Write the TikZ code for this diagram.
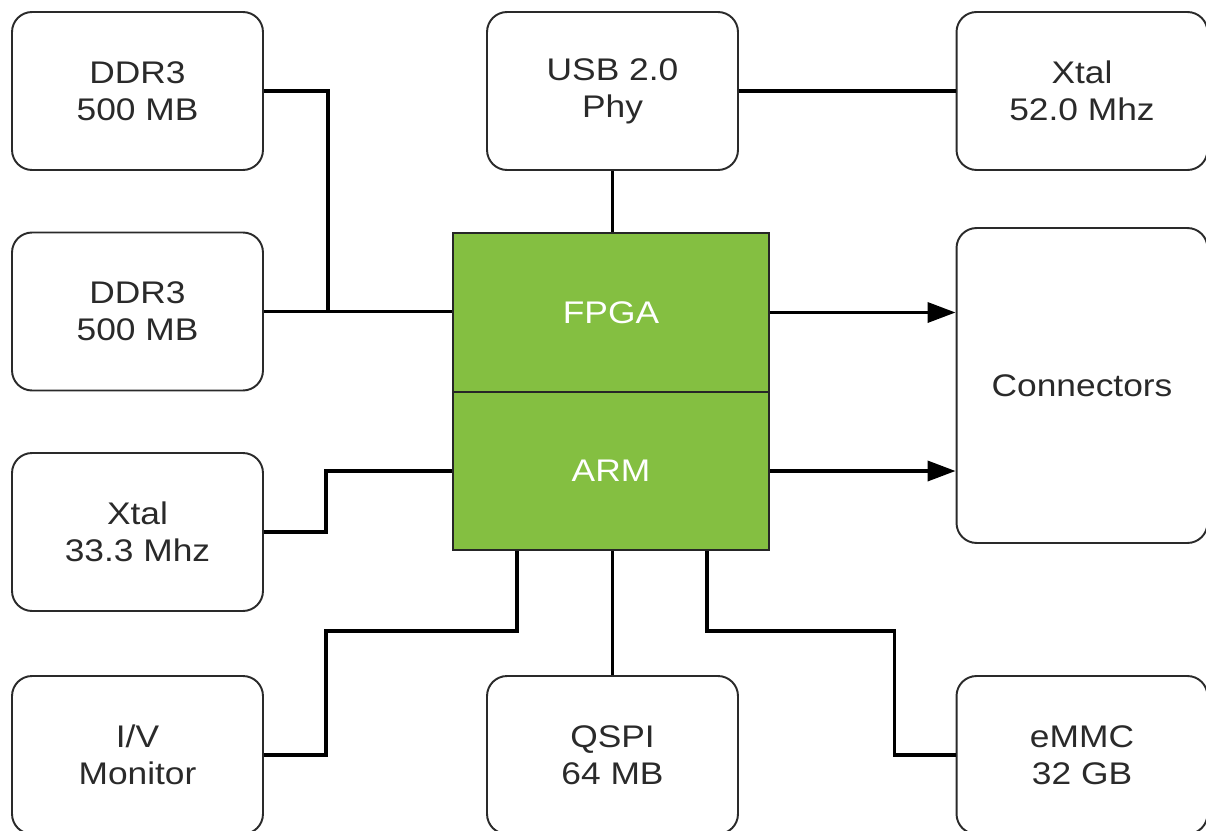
\documentclass[tikz,border=0pt]{standalone}
\usepackage{fontspec}
\setmainfont{Liberation Sans}[FakeStretch=1.13]
\usetikzlibrary{arrows.meta,calc}
\definecolor{chipgreen}{HTML}{84BF41}
\definecolor{boxgray}{HTML}{2A2A2A}

\begin{document}
\begin{tikzpicture}[x=0.02cm,y=-0.02cm,
    part/.style={draw=boxgray, line width=1.1pt, rounded corners=0.4cm, align=center,
        minimum width=5.02cm, minimum height=3.16cm, text=boxgray,
        font=\fontsize{17.8}{21}\selectfont},
    chip/.style={draw=black!85, line width=1.1pt, fill=chipgreen, text=white,
        minimum width=6.32cm, minimum height=3.17cm,
        font=\fontsize{17.8}{21}\selectfont},
    wire/.style={line width=2pt, black},
    bus/.style={wire, -{Triangle[length=0.56cm,width=0.4cm]}}]

        \useasboundingbox (0,0) rectangle (1206,831);

        % Left column: memories, clock, monitor
        \node[part] (ddrA) at (137.5,91) {DDR3\\500 MB};
        \node[part] (ddrB) at (137.5,311.5) {DDR3\\500 MB};
        \node[part] (xtalA) at (137.5,532) {Xtal\\33.3 Mhz};
        \node[part] (ivmon) at (137.5,755) {I/V\\Monitor};

        % Middle column: USB phy, SoC, flash
        \node[part] (usb) at (612.5,91) {USB 2.0\\Phy};
        \node[chip] (fpga) at (611,312.5) {FPGA};
        \node[chip] (arm) at (611,471) {ARM};
        \node[part] (qspi) at (612.5,755) {QSPI\\64 MB};

        % Right column: clock, connectors, eMMC
        \node[part] (xtalB) at (1082,91) {Xtal\\52.0 Mhz};
        \node[part, minimum height=6.3cm] (conn) at (1082,385.5) {Connectors};
        \node[part] (emmc) at (1082,755) {eMMC\\32 GB};

        % Wires to the FPGA
        \coordinate (ddrjoin) at ($(ddrB.east)!0.34!(ddrB.east -| fpga.west)$);
        \draw[wire] (ddrA.east) -| (ddrjoin);
        \draw[wire] (ddrB.east) -- (ddrB.east -| fpga.west);
        \draw[wire] (usb.south) -- (usb.south |- fpga.north);
        \draw[wire] (usb.east) -- (xtalB.west);
        \draw[bus] (fpga.east) -- (fpga.east -| conn.west);

        % Wires to the ARM
        \draw[wire] (xtalA.east) -- ++(62,0) |- (arm.west);
        \draw[bus] (arm.east) -- (arm.east -| conn.west);
        \draw[wire] ($(arm.south)+(-94,0)$) -- ++(0,80) -| ($(ivmon.east)+(62,0)$) -- (ivmon.east);
        \draw[wire] (arm.south -| qspi.north) -- (qspi.north);
        \draw[wire] ($(arm.south)+(96,0)$) -- ++(0,80) -| ($(emmc.west)+(-61,0)$) -- (emmc.west);

        \end{tikzpicture}
\end{document}
